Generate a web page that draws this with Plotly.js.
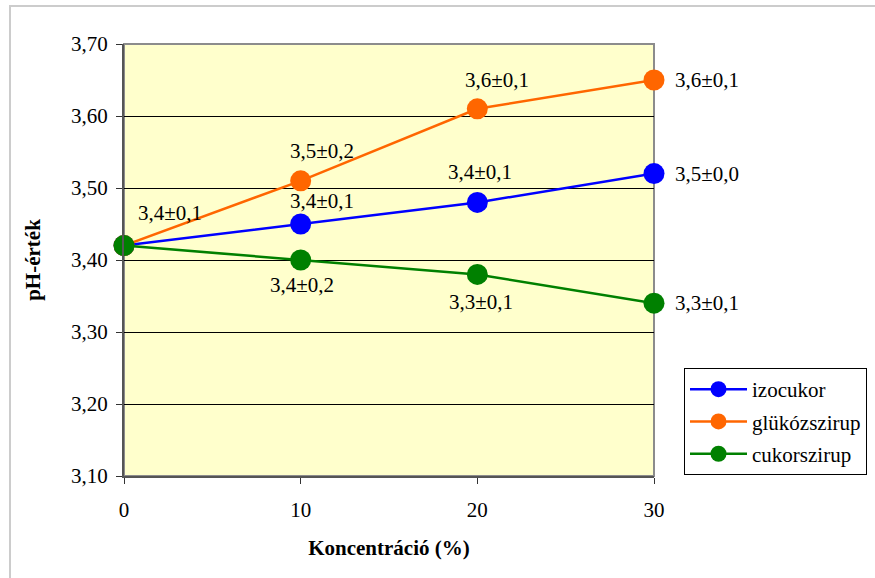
<!DOCTYPE html>
<html>
<head>
<meta charset="utf-8">
<script src="https://cdn.plot.ly/plotly-3.0.1.min.js"></script>
<style>
  html, body { margin: 0; padding: 0; background: #ffffff; }
  #chart { width: 875px; height: 578px; }
</style>
</head>
<body>
<div id="chart"></div>
<script>
// Sugar concentration (%) and measured pH values
const concentration = [0, 10, 20, 30];

const izocukor = [3.42, 3.45, 3.48, 3.52];
const glukozszirup = [3.42, 3.51, 3.61, 3.65];
const cukorszirup = [3.42, 3.40, 3.38, 3.34];

// Mean ± SD labels written next to the points
const izocukorLabels = ['3,4±0,1', '3,4±0,1', '3,4±0,1', '3,5±0,0'];
const glukozszirupLabels = ['', '3,5±0,2', '3,6±0,1', '3,6±0,1'];
const cukorszirupLabels = ['', '3,4±0,2', '3,3±0,1', '3,3±0,1'];

const seriesNames = ['izocukor', 'glükózszirup', 'cukorszirup'];
const yTicks = [3.10, 3.20, 3.30, 3.40, 3.50, 3.60, 3.70];

// Pixel offsets of each label relative to its point: [dx, dy (down positive), anchor]
const labelOffsets = [
  [[46, -33, 'center'], [21, -23, 'center'], [3, -30, 'center'], [19, 0, 'left']],
  [null, [21, -30, 'center'], [20, -29, 'center'], [19, 0, 'left']],
  [null, [1, 25, 'center'], [4, 28, 'center'], [19, 0, 'left']]
];

const colors = ['#0000ff', '#ff6600', '#008000'];
const FONT = '"Liberation Serif", "Times New Roman", serif';
const FS = 21;

const values = [izocukor, glukozszirup, cukorszirup];
const labels = [izocukorLabels, glukozszirupLabels, cukorszirupLabels];

const traces = values.map((v, i) => ({
  type: 'scatter',
  mode: 'lines+markers',
  name: seriesNames[i],
  legendgroup: 'g' + i,
  x: concentration,
  y: v,
  line: { color: colors[i], width: 2.5 },
  marker: { color: colors[i], size: 21, symbol: 'circle' },
  cliponaxis: false,
  hoverinfo: 'x+y'
}));

const annotations = [];
values.forEach((v, i) => {
  labels[i].forEach((t, j) => {
    if (!t) return;
    const off = labelOffsets[i][j];
    annotations.push({
      x: concentration[j],
      y: v[j],
      xref: 'x',
      yref: 'y',
      text: t,
      showarrow: false,
      xanchor: off[2],
      yanchor: 'middle',
      xshift: off[0],
      yshift: -off[1],
      font: { family: FONT, size: FS, color: '#000000' }
    });
  });
});

const L = 124, R = 221, T = 44, B = 102, W = 875, H = 578;
const pw = W - L - R, ph = H - T - B;
const px = v => (v - L) / pw;
const py = v => (H - B - v) / ph;

const layout = {
  width: W,
  height: H,
  margin: { l: L, r: R, t: T, b: B, pad: 0 },
  paper_bgcolor: '#ffffff',
  plot_bgcolor: '#ffffcc',
  separators: ',.',
  font: { family: FONT, size: FS, color: '#000000' },
  showlegend: true,
  legend: {
    xref: 'container', yref: 'container',
    x: 684 / W, xanchor: 'left',
    y: 1 - 368 / H, yanchor: 'top',
    bgcolor: '#ffffff',
    bordercolor: '#000000',
    borderwidth: 1,
    font: { family: FONT, size: FS, color: '#000000' },
    tracegroupgap: 2,
    itemwidth: 57,
    traceorder: 'grouped'
  },
  xaxis: {
    range: [0, 30],
    tickvals: concentration,
    ticktext: concentration.map(String),
    ticks: 'outside',
    ticklen: 6,
    tickwidth: 1,
    tickcolor: '#333333',
    showgrid: false,
    zeroline: false,
    showline: true,
    linecolor: '#555555',
    linewidth: 2,
    tickfont: { family: FONT, size: FS, color: '#000000' },
    ticklabelstandoff: 8,
    title: {
      text: '<b>Koncentráció (%)</b>',
      font: { family: FONT, size: FS, color: '#000000' },
      standoff: 19
    },
    fixedrange: true
  },
  yaxis: {
    range: [3.1, 3.7],
    tickvals: yTicks,
    tickformat: '.2f',
    ticks: 'outside',
    ticklen: 6,
    tickwidth: 1,
    tickcolor: '#333333',
    showgrid: true,
    gridcolor: '#000000',
    gridwidth: 1,
    zeroline: false,
    showline: true,
    linecolor: '#555555',
    linewidth: 2,
    tickfont: { family: FONT, size: FS, color: '#000000' },
    ticklabelstandoff: 4,
    title: {
      text: '<b>pH-érték</b>',
      font: { family: FONT, size: FS, color: '#000000' },
      standoff: 25
    },
    fixedrange: true
  },
  shapes: [
    // outer frame of the chart area
    {
      type: 'rect', xref: 'paper', yref: 'paper',
      x0: px(10), x1: px(890), y0: py(600), y1: py(6),
      line: { color: '#cccccc', width: 2 },
      fillcolor: 'rgba(0,0,0,0)',
      layer: 'below'
    },
    // grey border around the plot area
    {
      type: 'rect', xref: 'paper', yref: 'paper',
      x0: 0, x1: 1, y0: 0, y1: 1,
      line: { color: '#8c8c8c', width: 2 },
      fillcolor: 'rgba(0,0,0,0)',
      layer: 'below'
    }
  ],
  annotations: annotations
};

Plotly.newPlot('chart', traces, layout, { displayModeBar: false, staticPlot: true });
</script>
</body>
</html>
